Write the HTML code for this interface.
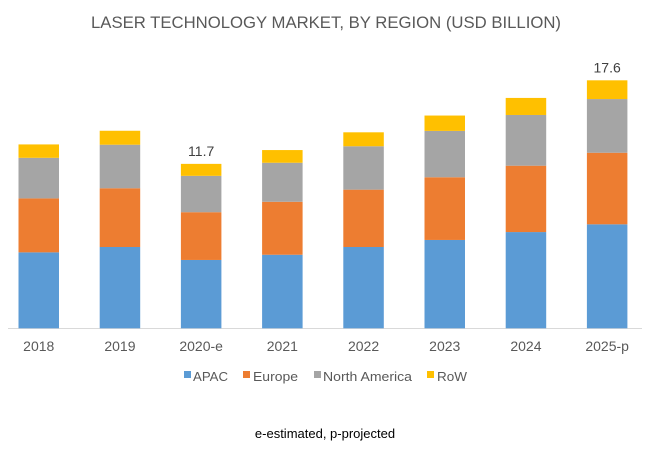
<!DOCTYPE html>
<html><head><meta charset="utf-8"><style>
html,body{margin:0;padding:0;background:#fff;}
svg{display:block;font-family:"Liberation Sans",sans-serif;}
</style></head><body>
<svg id="chart" width="650" height="451" viewBox="0 0 650 451" xmlns="http://www.w3.org/2000/svg">
<text x="326" y="28" text-anchor="middle" font-size="17" fill="#595959" textLength="470" lengthAdjust="spacingAndGlyphs">LASER TECHNOLOGY MARKET, BY REGION (USD  BILLION)</text>
<line x1="8" y1="328.5" x2="642" y2="328.5" stroke="#d9d9d9" stroke-width="1"/>
<g id="bars"></g>
<g id="xlabels"></g>
<g id="values"></g>
<g font-size="13" fill="#595959">
<rect x="184" y="371" width="7" height="7" fill="#5b9bd5"/>
<text x="193" y="381" textLength="35" lengthAdjust="spacingAndGlyphs">APAC</text>
<rect x="243" y="371" width="7" height="7" fill="#ed7d31"/>
<text x="253" y="381" textLength="45" lengthAdjust="spacingAndGlyphs">Europe</text>
<rect x="314" y="371" width="7" height="7" fill="#a5a5a5"/>
<text x="323" y="381" textLength="89" lengthAdjust="spacingAndGlyphs">North America</text>
<rect x="427" y="371" width="7" height="7" fill="#ffc000"/>
<text x="437" y="381" textLength="30" lengthAdjust="spacingAndGlyphs">RoW</text>
</g>
<text x="325" y="438" text-anchor="middle" font-size="13" fill="#000">e-estimated, p-projected</text>
</svg>
<script>
const categories = ["2018","2019","2020-e","2021","2022","2023","2024","2025-p"];
const apac = [5.39,5.77,4.85,5.22,5.77,6.27,6.83,7.38];
const europe = [3.83,4.17,3.39,3.76,4.07,4.45,4.71,5.08];
const northAmerica = [2.88,3.09,2.58,2.77,3.08,3.29,3.60,3.81];
const row = [0.95,0.99,0.85,0.90,0.99,1.09,1.21,1.33];
const totalLabels = ["","","11.7","","","","","17.6"];

const NS="http://www.w3.org/2000/svg";
const baseY=328.3, pxPer=14.09, x0=18.5, pitch=81.2, bw=40.5;
function xPos(i){return x0+i*pitch;}
function yPos(v){return baseY-v*pxPer;}
const series=[["apac",apac,"#5b9bd5"],["europe",europe,"#ed7d31"],["north-america",northAmerica,"#a5a5a5"],["row",row,"#ffc000"]];
const gb=document.getElementById("bars"), gl=document.getElementById("xlabels"), gv=document.getElementById("values");
categories.forEach((c,i)=>{
  let cum=0;
  series.forEach(([nm,arr,col])=>{
    const r=document.createElementNS(NS,"rect");
    const y1=yPos(cum+arr[i]), y0=yPos(cum);
    r.setAttribute("x",xPos(i));r.setAttribute("y",y1);
    r.setAttribute("width",bw);r.setAttribute("height",y0-y1);r.setAttribute("fill",col);
    
    
    gb.appendChild(r);
    cum+=arr[i];
  });
  const t=document.createElementNS(NS,"text");
  t.setAttribute("x",xPos(i)+bw/2);t.setAttribute("y",351);
  t.setAttribute("text-anchor","middle");t.setAttribute("font-size","14");t.setAttribute("fill","#595959");
  t.textContent=c;
  
  
  gl.appendChild(t);
  if(totalLabels[i]){
    const v=document.createElementNS(NS,"text");
    v.setAttribute("x",xPos(i)+bw/2);v.setAttribute("y",yPos(cum)-8);
    v.setAttribute("text-anchor","middle");v.setAttribute("font-size","14");v.setAttribute("fill","#404040");
    v.textContent=totalLabels[i];
    
    
    gv.appendChild(v);
  }
});
</script>
</body></html>
